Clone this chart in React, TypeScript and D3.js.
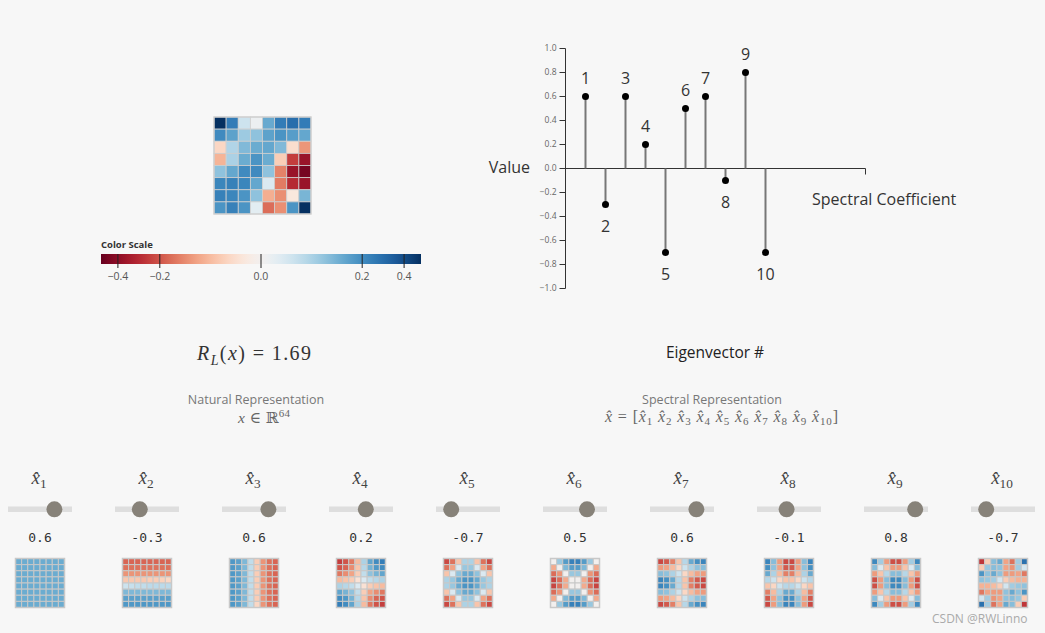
import React from 'react';
import * as d3 from 'd3';

// ---------- DATA ----------
const coefLabels = ['1', '2', '3', '4', '5', '6', '7', '8', '9', '10'];
const coefValues = [0.6, -0.3, 0.6, 0.2, -0.7, 0.5, 0.6, -0.1, 0.8, -0.7];
const yTicks = [-1, -0.8, -0.6, -0.4, -0.2, 0, 0.2, 0.4, 0.6, 0.8, 1];
const legendTicks = [-0.4, -0.2, 0, 0.2, 0.4];
const colorDomain = [-0.5, 0.5];
const rayleigh = '1.69';

const signalGrid = [
  0.5, 0.245, 0.02, 0.001, 0.13, 0.245, 0.29, 0.245,
  0.205, 0.146, 0.065, 0.08, 0.146, 0.18, 0.157, 0.135,
  -0.02, 0.045, 0.097, 0.125, 0.135, 0.097, -0.013, -0.097,
  -0.058, 0.051, 0.125, 0.18, 0.125, -0.029, -0.245, -0.37,
  0.08, 0.135, 0.205, 0.205, 0.08, -0.125, -0.37, -0.46,
  0.218, 0.231, 0.218, 0.135, 0.01, -0.135, -0.29, -0.37,
  0.231, 0.218, 0.18, 0.08, -0.065, -0.106, -0.005, 0.106,
  0.18, 0.231, 0.18, 0.005, -0.157, -0.106, 0.18, 0.5,
];

const eig1 = [
  0.125, 0.125, 0.125, 0.125, 0.125, 0.125, 0.125, 0.125,
  0.125, 0.125, 0.125, 0.125, 0.125, 0.125, 0.125, 0.125,
  0.125, 0.125, 0.125, 0.125, 0.125, 0.125, 0.125, 0.125,
  0.125, 0.125, 0.125, 0.125, 0.125, 0.125, 0.125, 0.125,
  0.125, 0.125, 0.125, 0.125, 0.125, 0.125, 0.125, 0.125,
  0.125, 0.125, 0.125, 0.125, 0.125, 0.125, 0.125, 0.125,
  0.125, 0.125, 0.125, 0.125, 0.125, 0.125, 0.125, 0.125,
  0.125, 0.125, 0.125, 0.125, 0.125, 0.125, 0.125, 0.125,
];
const eig2 = [
  -0.17, -0.17, -0.17, -0.17, -0.17, -0.17, -0.17, -0.17,
  -0.15, -0.15, -0.15, -0.15, -0.15, -0.15, -0.15, -0.15,
  -0.1, -0.1, -0.1, -0.1, -0.1, -0.1, -0.1, -0.1,
  -0.035, -0.035, -0.035, -0.035, -0.03, -0.03, -0.025, -0.02,
  0.02, 0.025, 0.03, 0.03, 0.035, 0.035, 0.035, 0.035,
  0.1, 0.1, 0.1, 0.1, 0.1, 0.1, 0.1, 0.1,
  0.15, 0.15, 0.15, 0.15, 0.15, 0.15, 0.15, 0.15,
  0.17, 0.17, 0.17, 0.17, 0.17, 0.17, 0.17, 0.17,
];
const eig3 = [
  0.17, 0.15, 0.1, 0.03, -0.03, -0.1, -0.15, -0.17,
  0.17, 0.15, 0.1, 0.03, -0.03, -0.1, -0.15, -0.17,
  0.17, 0.15, 0.1, 0.03, -0.03, -0.1, -0.15, -0.17,
  0.17, 0.15, 0.1, 0.03, -0.03, -0.1, -0.15, -0.17,
  0.17, 0.15, 0.1, 0.03, -0.03, -0.1, -0.15, -0.17,
  0.17, 0.15, 0.1, 0.03, -0.03, -0.1, -0.15, -0.17,
  0.17, 0.15, 0.1, 0.03, -0.03, -0.1, -0.15, -0.17,
  0.17, 0.15, 0.1, 0.03, -0.02, -0.1, -0.15, -0.17,
];
const eig4 = [
  -0.24, -0.2, -0.14, -0.05, 0.05, 0.14, 0.2, 0.24,
  -0.2, -0.17, -0.11, -0.04, 0.04, 0.11, 0.17, 0.2,
  -0.14, -0.11, -0.08, -0.03, 0.03, 0.08, 0.11, 0.14,
  -0.05, -0.04, -0.03, -0.01, 0.01, 0.03, 0.04, 0.05,
  0.05, 0.04, 0.03, 0.01, -0.01, -0.03, -0.04, -0.05,
  0.14, 0.11, 0.08, 0.03, -0.03, -0.08, -0.11, -0.14,
  0.2, 0.17, 0.11, 0.04, -0.04, -0.11, -0.17, -0.2,
  0.24, 0.2, 0.14, 0.05, -0.05, -0.14, -0.2, -0.24,
];
const eig5 = [
  -0.22, -0.15, -0.04, 0.05, 0.05, -0.04, -0.15, -0.22,
  -0.15, -0.08, 0.01, 0.07, 0.07, 0.01, -0.08, -0.15,
  -0.04, 0.01, 0.08, 0.13, 0.13, 0.08, 0.01, -0.04,
  0.05, 0.07, 0.13, 0.18, 0.18, 0.13, 0.07, 0.05,
  0.05, 0.07, 0.13, 0.18, 0.18, 0.13, 0.07, 0.05,
  -0.04, 0.01, 0.08, 0.13, 0.13, 0.08, 0.01, -0.04,
  -0.15, -0.08, 0.01, 0.07, 0.07, 0.01, -0.08, -0.15,
  -0.22, -0.15, -0.04, 0.05, 0.05, -0.04, -0.15, -0.22,
];
const eig6 = [
  0.0, 0.07, 0.16, 0.23, 0.23, 0.16, 0.07, 0.0,
  -0.07, 0.0, 0.1, 0.16, 0.16, 0.1, 0.0, -0.07,
  -0.16, -0.1, 0.0, 0.07, 0.07, 0.0, -0.1, -0.16,
  -0.23, -0.16, -0.07, 0.0, 0.0, -0.07, -0.16, -0.23,
  -0.23, -0.16, -0.07, 0.0, 0.0, -0.07, -0.16, -0.23,
  -0.16, -0.1, 0.0, 0.07, 0.07, 0.0, -0.1, -0.16,
  -0.07, 0.0, 0.1, 0.16, 0.16, 0.1, 0.0, -0.07,
  0.0, 0.07, 0.16, 0.23, 0.23, 0.16, 0.07, 0.0,
];
const eig7 = [
  -0.22, -0.19, -0.13, -0.04, 0.04, 0.13, 0.19, 0.22,
  -0.09, -0.08, -0.05, -0.02, 0.02, 0.05, 0.08, 0.09,
  0.09, 0.08, 0.05, 0.02, -0.02, -0.05, -0.08, -0.09,
  0.22, 0.19, 0.13, 0.04, -0.04, -0.13, -0.19, -0.22,
  0.22, 0.19, 0.13, 0.04, -0.04, -0.13, -0.19, -0.22,
  0.09, 0.08, 0.05, 0.02, -0.02, -0.05, -0.08, -0.09,
  -0.09, -0.08, -0.05, -0.02, 0.02, 0.05, 0.08, 0.09,
  -0.22, -0.19, -0.13, -0.04, 0.04, 0.13, 0.19, 0.22,
];
const eig8 = [
  0.22, 0.09, -0.09, -0.22, -0.22, -0.09, 0.09, 0.22,
  0.19, 0.08, -0.08, -0.19, -0.19, -0.08, 0.08, 0.19,
  0.13, 0.05, -0.05, -0.13, -0.13, -0.05, 0.05, 0.13,
  0.04, 0.02, -0.02, -0.04, -0.04, -0.02, 0.02, 0.04,
  -0.04, -0.02, 0.02, 0.04, 0.04, 0.02, -0.02, -0.04,
  -0.13, -0.05, 0.05, 0.13, 0.13, 0.05, -0.05, -0.13,
  -0.19, -0.08, 0.08, 0.19, 0.19, 0.08, -0.08, -0.19,
  -0.22, -0.09, 0.09, 0.22, 0.22, 0.09, -0.09, -0.22,
];
const eig9 = [
  0.21, 0.06, -0.09, -0.21, -0.21, -0.09, 0.06, 0.21,
  0.09, 0.01, -0.04, -0.09, -0.09, -0.04, 0.01, 0.09,
  -0.09, -0.04, 0.04, 0.09, 0.09, 0.04, -0.04, -0.09,
  -0.21, -0.09, 0.09, 0.21, 0.21, 0.09, -0.09, -0.21,
  -0.21, -0.09, 0.09, 0.21, 0.21, 0.09, -0.09, -0.21,
  -0.09, -0.04, 0.04, 0.09, 0.09, 0.04, -0.04, -0.09,
  0.09, 0.01, -0.04, -0.09, -0.09, -0.04, 0.01, 0.09,
  0.21, 0.06, -0.09, -0.21, -0.21, -0.09, 0.06, 0.21,
];
const eig10 = [
  -0.26, -0.03, 0.09, 0.13, -0.08, -0.15, 0.06, 0.28,
  -0.03, 0.07, 0.09, 0.08, -0.08, -0.1, 0.06, 0.015,
  0.18, 0.08, 0.13, 0.08, -0.09, -0.09, -0.08, -0.14,
  0.08, 0.07, 0.06, 0.015, -0.03, -0.05, -0.06, -0.06,
  -0.06, -0.06, -0.05, -0.03, 0.015, 0.06, 0.07, 0.08,
  -0.14, -0.08, -0.09, -0.09, 0.08, 0.13, 0.08, 0.18,
  0.015, 0.06, -0.1, -0.08, 0.08, 0.09, 0.07, -0.03,
  0.28, 0.06, -0.15, -0.08, 0.13, 0.09, -0.03, -0.26,
];
const eigenvectors = [eig1, eig2, eig3, eig4, eig5, eig6, eig7, eig8, eig9, eig10];

// ---------- STYLE ----------
const W = 1045;
const H = 633;
const BG = '#f7f7f7';
const SANS = '"Open Sans", "Noto Sans", sans-serif';
const SERIF = '"Liberation Serif", "DejaVu Serif", serif';
const MONO = '"DejaVu Sans Mono", "Liberation Mono", monospace';

const color = d3.scaleSequentialSqrt(d3.interpolateRdBu).domain(colorDomain);

function Heatmap({ values, x, y, size, stroke, sw }: any) {
  const band = d3.scaleBand<number>().domain(d3.range(8)).range([0, size]);
  const bw = band.bandwidth();
  return (
    <g transform={`translate(${x},${y})`}>
      {values.map((v: number, k: number) => (
        <rect
          key={k}
          x={band(k % 8)}
          y={band(Math.floor(k / 8))}
          width={bw}
          height={bw}
          fill={color(v)}
          stroke={stroke}
          strokeWidth={sw}
        />
      ))}
      <rect x={0} y={0} width={size} height={size} fill="none" stroke={stroke} strokeWidth={sw + 0.5} />
    </g>
  );
}

function HatSub({ x, y, sub, fs, fill }: any) {
  return (
    <text x={x} y={y} textAnchor="middle" fontFamily={SERIF} fontSize={fs} fill={fill}>
      <tspan fontStyle="italic">{'x\u0302'}</tspan>
      <tspan fontSize={fs * 0.7} dy={fs * 0.22}>{sub}</tspan>
    </text>
  );
}

export default function App() {
  // stem chart scales
  const sx = d3.scaleLinear().domain([0, 15]).range([565.5, 865.5]);
  const sy = d3.scaleLinear().domain([-1, 1]).range([288.5, 48.5]);
  const y0 = sy(0);
  const fmt = d3.format('.1f');

  // legend
  const lx = d3.scaleSqrt().domain(colorDomain).range([101, 421]);
  const gradStops = d3.range(0, 1.0001, 0.02);

  // bottom columns
  const cx = d3.scaleLinear().domain([0, 9]).range([40, 1003]);
  const thumb = d3.scaleLinear().domain([-1, 1]).range([-24, 24]);

  const subDy = 3.8;

  return (
    <div style={{ position: 'absolute', left: 0, top: 0, width: W, height: H, background: BG }}>
      <svg width={W} height={H} style={{ display: 'block' }}>
        <defs>
          <linearGradient id="legendGrad" x1="0" x2="1" y1="0" y2="0">
            {gradStops.map((t, i) => (
              <stop key={i} offset={`${t * 100}%`} stopColor={d3.interpolateRdBu(t)} />
            ))}
          </linearGradient>
        </defs>
        <rect x={0} y={0} width={W} height={H} fill={BG} />

        {/* main heatmap */}
        <Heatmap values={signalGrid} x={214} y={117} size={97} stroke="#cfcfcf" sw={0.8} />

        {/* color legend */}
        <text x={101} y={248} fontFamily={SANS} fontSize={9.5} fontWeight="bold" fill="#333">
          Color Scale
        </text>
        <rect x={101} y={254} width={320} height={10} fill="url(#legendGrad)" />
        {legendTicks.map((t, i) => (
          <g key={i}>
            <line x1={lx(t)} x2={lx(t)} y1={254} y2={268} stroke="#222" strokeWidth={1} />
            <text x={lx(t)} y={280} textAnchor="middle" fontFamily={SANS} fontSize={10.5} fill="#555">
              {fmt(t)}
            </text>
          </g>
        ))}

        {/* stem chart */}
        <g>
          {yTicks.map((t, i) => (
            <g key={i}>
              <line x1={sx(0) - 6} x2={sx(0)} y1={sy(t)} y2={sy(t)} stroke="#333" strokeWidth={1} />
              <text
                x={sx(0) - 9}
                y={sy(t)}
                dy="0.32em"
                textAnchor="end"
                fontFamily={SANS}
                fontSize={8.5}
                fill="#666"
              >
                {fmt(t)}
              </text>
            </g>
          ))}
          <path d={`M${sx(0)},${sy(1)}V${sy(-1)}`} stroke="#333" fill="none" strokeWidth={1} />
          <path
            d={`M${sx(0)},${y0 + 6}V${y0}H${sx(15)}V${y0 + 6}`}
            stroke="#333"
            fill="none"
            strokeWidth={1}
          />
          {coefValues.map((v, i) => (
            <g key={i}>
              <line x1={sx(i + 1)} x2={sx(i + 1)} y1={y0} y2={sy(v)} stroke="#777" strokeWidth={2} />
              <circle cx={sx(i + 1)} cy={sy(v)} r={3.5} fill="#000" />
              <text
                x={sx(i + 1)}
                y={v >= 0 ? sy(v) - 12.5 : sy(v) + 27}
                textAnchor="middle"
                fontFamily={SANS}
                fontSize={16}
                fill="#333"
              >
                {coefLabels[i]}
              </text>
            </g>
          ))}
          <text x={530} y={173} textAnchor="end" fontFamily={SANS} fontSize={16} fill="#333">
            Value
          </text>
          <text x={812} y={205} fontFamily={SANS} fontSize={16} fill="#333">
            Spectral Coefficient
          </text>
          <text x={715} y={358} textAnchor="middle" fontFamily={SANS} fontSize={15.5} fill="#222">
            Eigenvector #
          </text>
        </g>

        {/* Rayleigh quotient */}
        <text
          x={197}
          y={360}
          fontFamily={SERIF}
          fontSize={20}
          fill="#333"
          textLength={114}
          lengthAdjust="spacing"
        >
          <tspan fontStyle="italic">R</tspan>
          <tspan fontStyle="italic" fontSize={14} dy={4.5}>L</tspan>
          <tspan dy={-4.5}>(</tspan>
          <tspan fontStyle="italic">x</tspan>
          <tspan>{') = ' + rayleigh}</tspan>
        </text>

        {/* representations */}
        <text x={256} y={404} textAnchor="middle" fontFamily={SANS} fontSize={12.5} fill="#777">
          Natural Representation
        </text>
        <text x={238} y={423} fontFamily={SERIF} fontSize={15.5} fill="#666" textLength={52} lengthAdjust="spacing">
          <tspan fontStyle="italic">x</tspan>
          <tspan>{' \u2208 \u211D'}</tspan>
          <tspan fontSize={11} dy={-6}>64</tspan>
        </text>
        <text x={712} y={403.5} textAnchor="middle" fontFamily={SANS} fontSize={12.5} fill="#777">
          Spectral Representation
        </text>
        <text
          x={605}
          y={421.5}
          fontFamily={SERIF}
          fontSize={16}
          fill="#666"
          textLength={233}
          lengthAdjust="spacing"
        >
          <tspan fontStyle="italic">{'x\u0302'}</tspan>
          <tspan>{' = ['}</tspan>
          {coefLabels.map((s, i) => (
            <React.Fragment key={i}>
              <tspan fontStyle="italic" dy={i === 0 ? 0 : -subDy}>
                {(i === 0 ? '' : ' ') + 'x\u0302'}
              </tspan>
              <tspan fontSize={11} dy={subDy}>
                {s}
              </tspan>
            </React.Fragment>
          ))}
          <tspan dy={-subDy}>]</tspan>
        </text>

        {/* bottom controls */}
        {coefValues.map((v, i) => {
          const c = cx(i);
          return (
            <g key={i}>
              <HatSub x={c - 1} y={484} sub={coefLabels[i]} fs={19} fill="#444" />
              <rect x={c - 32} y={506.5} width={64} height={5.5} fill="#dedede" />
              <circle cx={c + thumb(v)} cy={509.3} r={8} fill="#878279" />
              <text x={c} y={541.5} textAnchor="middle" fontFamily={MONO} fontSize={13} fill="#333">
                {String(v)}
              </text>
              <Heatmap values={eigenvectors[i]} x={c - 24.5} y={558.5} size={49} stroke="#c8c8c8" sw={1} />
            </g>
          );
        })}

        <text x={932} y={623} fontFamily={SANS} fontSize={12} fill="#aaa">
          CSDN @RWLinno
        </text>
      </svg>
    </div>
  );
}
